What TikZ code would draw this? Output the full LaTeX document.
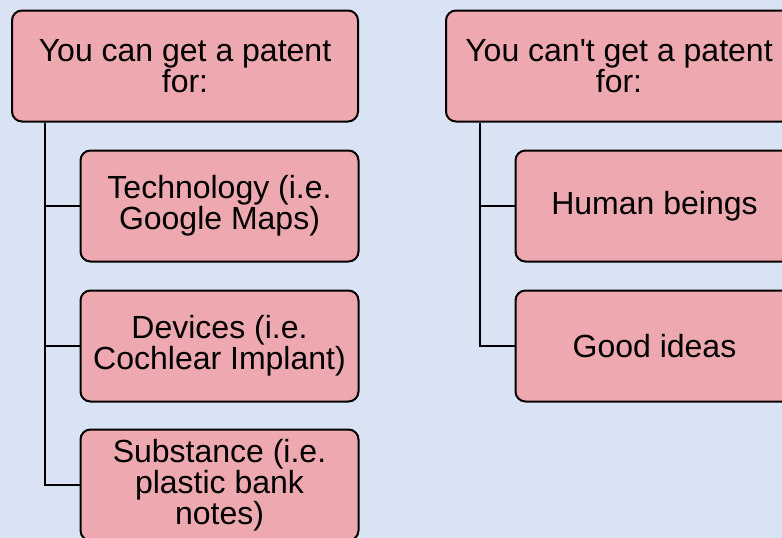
\documentclass[tikz,border=0pt]{standalone}
\usepackage{fontspec}
\setmainfont{Liberation Sans}
\usepackage{xcolor}
\usepackage{tikz}
\usetikzlibrary{calc}

\definecolor{pageblue}{HTML}{DAE3F3}
\definecolor{boxpink}{HTML}{EEA8AF}

\begin{document}
\begin{tikzpicture}[x=1pt, y=-1pt,
    topic/.style={rectangle, draw, line width=2pt, rounded corners=10pt, fill=boxpink,
        minimum width=346pt, minimum height=111pt, inner sep=0pt, align=center,
        font=\fontsize{32}{31}\selectfont},
    item/.style={topic, minimum width=278pt},
    branch/.style={line width=2pt}]
    \useasboundingbox (0,0) rectangle (782,538);
    \fill[pageblue] (0,0) rectangle (782,538);
    \clip (0,0) rectangle (782,538);

    \node[topic] (can) at (185, 66) {You can get a patent\\for:};
    \node[item] (tech) at (219.5, 206) {Technology (i.e.\\Google Maps)};
    \node[item] (devices) at (219.5, 346) {Devices (i.e.\\Cochlear Implant)};
    \node[item] (substance) at (219.5, 485) {Substance (i.e.\\plastic bank\\notes)};

    \node[topic] (cant) at (619, 66) {You can\textquotesingle t get a patent\\for:};
    \node[item] (humans) at (654.5, 206) {Human beings};
    \node[item] (ideas) at (654.5, 346) {Good ideas};

    \draw[branch] ($(can.south west)+(34,0)$) |- (tech.west);
    \draw[branch] ($(can.south west)+(34,0)$) |- (devices.west);
    \draw[branch] ($(can.south west)+(34,0)$) |- (substance.west);
    \draw[branch] ($(cant.south west)+(35,0)$) |- (humans.west);
    \draw[branch] ($(cant.south west)+(35,0)$) |- (ideas.west);
\end{tikzpicture}
\end{document}
